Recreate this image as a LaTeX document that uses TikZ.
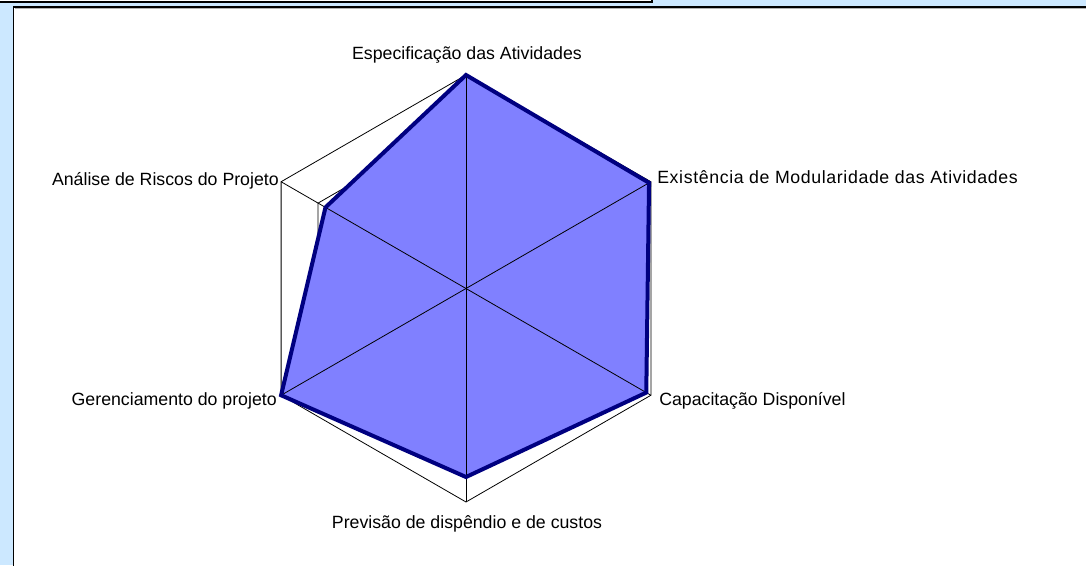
\documentclass[tikz,border=0pt]{standalone}
\usepackage{fontspec}
\setmainfont{Liberation Sans}
\definecolor{bgblue}{RGB}{204,232,255}
\definecolor{serfill}{RGB}{128,128,255}
\definecolor{serline}{RGB}{0,0,128}
\tikzset{
  lbl/.style={inner sep=0pt, font=\fontsize{13.3}{15}\selectfont},
  grid/.style={draw=black, line width=0.6pt},
  spoke/.style={draw=black, line width=0.6pt},
  series/.style={draw=serline, fill=serfill, line width=3pt, line join=miter},
}
\begin{document}
\begin{tikzpicture}[x=0.75pt,y=0.75pt]
\useasboundingbox (0,0) rectangle (1086,565);
\fill[bgblue] (0,0) rectangle (1086,565);
% top white box
\draw[fill=white, line width=1.4pt] (-5,563) rectangle (652,575);
% main chart area
\draw[fill=white, line width=1.4pt] (13.5,-10) rectangle (1095,558);
\draw[gray!60, line width=0.6pt] (15,556.3) -- (1095,556.3);
\begin{scope}[shift={(466,276.5)}]
  % axis vertices
  \foreach \n/\a in {esp/90, exi/30, cap/-30, pre/-90, ger/210, ana/150}{
    \coordinate (\n) at (\a:213.5);
  }
  \coordinate (O) at (0,0);
  % grid hexagons
  \foreach \k in {0.2,0.4,0.6,0.8,1.0}{
    \draw[grid] (90:213.5*\k) -- (30:213.5*\k) -- (-30:213.5*\k) -- (-90:213.5*\k) -- (210:213.5*\k) -- (150:213.5*\k) -- cycle;
  }
  % data points
  \coordinate (desp) at (90:213.5*1.0);
  \coordinate (dexi) at (30:213.5*0.99);
  \coordinate (dcap) at (-30:213.5*0.975);
  \coordinate (dpre) at (-90:213.5*0.883);
  \coordinate (dger) at (210:213.5*1.0);
  \coordinate (dana) at (150:213.5*0.76);
  \fill[serfill] (desp) -- (dexi) -- (dcap) -- (dpre) -- (dger) -- (dana) -- cycle;
  % spokes
  \foreach \n in {esp,exi,cap,pre,ger,ana}{
    \draw[spoke] (O) -- (\n);
  }
  \draw[series, fill=none] (desp) -- (dexi) -- (dcap) -- (dpre) -- (dger) -- (dana) -- cycle;
\end{scope}
% labels
\node[lbl, anchor=base] (lesp) at (467,505) {Especificação das Atividades};
\node[lbl, anchor=base west] (lexi) at (657,381) {\addfontfeature{LetterSpace=3.5}Existência de Modularidade das Atividades};
\node[lbl, anchor=base west] (lcap) at (659,160) {Capacitação Disponível};
\node[lbl, anchor=base] (lpre) at (467,37) {Previsão de dispêndio e de custos};
\node[lbl, anchor=base east] (lger) at (277,160) {Gerenciamento do projeto};
\node[lbl, anchor=base east] (lana) at (279,379) {Análise de Riscos do Projeto};
\end{tikzpicture}
\end{document}
